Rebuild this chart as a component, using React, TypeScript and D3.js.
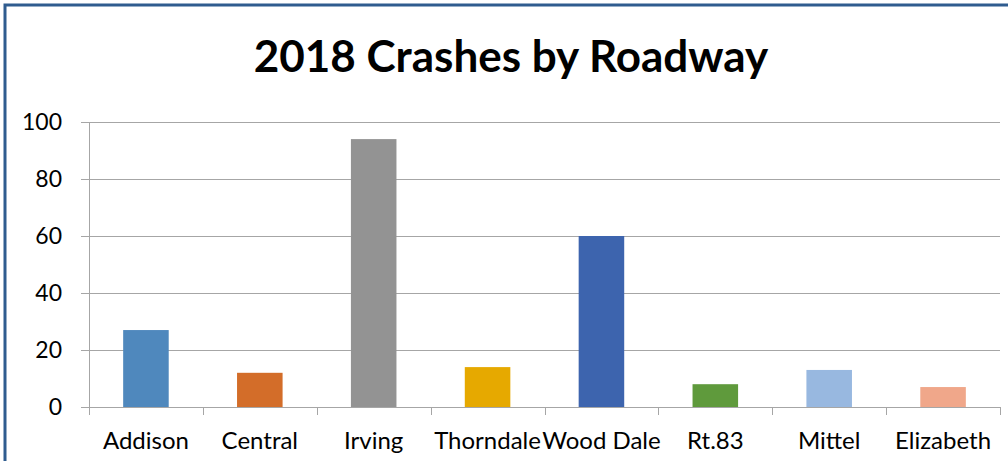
import React from "react";
import * as d3 from "d3";

const categories = ["Addison", "Central", "Irving", "Thorndale", "Wood Dale", "Rt.83", "Mittel", "Elizabeth"];
const values = [27, 12, 94, 14, 60, 8, 13, 7];
const colors = ["#4F88BD", "#D36D29", "#939393", "#E6A900", "#3D64AE", "#5F9A3C", "#98B8E0", "#F0A78A"];
const yTicks = [0, 20, 40, 60, 80, 100];
const title = "2018 Crashes by Roadway";

const W = 1008;
const H = 461;
const plot = { left: 89, right: 1000, top: 122, bottom: 407 };
const font = "Lato, 'Open Sans', sans-serif";

export default function App() {
  const x = d3.scaleBand<string>().domain(categories).range([plot.left, plot.right]).paddingInner(0.6).paddingOuter(0.3);
  const band = d3.scaleBand<string>().domain(categories).range([plot.left, plot.right]).padding(0);
  const y = d3.scaleLinear().domain([0, 100]).range([plot.bottom, plot.top]);
  const gridColor = "#A6A6A6";
  return (
    <svg width={W} height={H} style={{ position: "absolute", left: 0, top: 0, display: "block" }}>
      <rect x={0} y={0} width={W} height={H} fill="#fff" />
      <rect x={5} y={5} width={1010} height={470} fill="#fff" stroke="#2F5C8F" strokeWidth={3} />
      <text x={511} y={72} textAnchor="middle" fontFamily={font} fontWeight={700} fontSize={44} fill="#000">
        {title}
      </text>
      {yTicks.map((t) => (
        <g key={t}>
          <line x1={plot.left - 8} x2={plot.right} y1={Math.round(y(t)) + 0.5} y2={Math.round(y(t)) + 0.5} stroke={gridColor} strokeWidth={1} />
          <text x={62} y={y(t) + 8} textAnchor="end" fontFamily={font} fontSize={23} fill="#000">
            {t}
          </text>
        </g>
      ))}
      <line x1={plot.left + 0.5} x2={plot.left + 0.5} y1={plot.top} y2={plot.bottom + 8} stroke={gridColor} strokeWidth={1} />
      {categories.map((c) => (
        <line key={"t" + c} x1={Math.round((band(c) as number) + band.bandwidth()) + 0.5} x2={Math.round((band(c) as number) + band.bandwidth()) + 0.5} y1={plot.bottom} y2={plot.bottom + 8} stroke={gridColor} strokeWidth={1} />
      ))}
      {categories.map((c, i) => (
        <rect key={c} x={x(c)} y={y(values[i])} width={x.bandwidth()} height={plot.bottom - y(values[i])} fill={colors[i]} />
      ))}
      {categories.map((c) => (
        <text key={"l" + c} x={(band(c) as number) + band.bandwidth() / 2} y={449} textAnchor="middle" fontFamily={font} fontSize={24} fill="#000">
          {c}
        </text>
      ))}
    </svg>
  );
}
